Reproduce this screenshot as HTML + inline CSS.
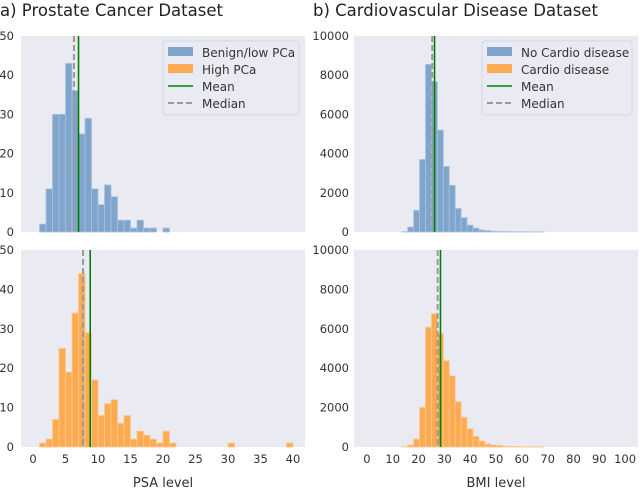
<!DOCTYPE html>
<html><head><meta charset="utf-8"><style>
body{margin:0;background:#fff}
svg{display:block;font-family:"DejaVu Sans","Liberation Sans",sans-serif}
</style></head><body>
<svg id="c" width="640" height="489" viewBox="0 0 640 489">
<text x="0" y="16" font-size="16.5" fill="#222">a) Prostate Cancer Dataset</text>
<text x="313" y="16" font-size="16.5" fill="#222">b) Cardiovascular Disease Dataset</text>
</svg>
<script>
// Prostate data (bins of width 1 starting at 1)
const psaBenign=[2,11,30,30,43,36,25,29,11,7,12,9,3,3,1,3,1,1,0,1];
const psaHigh=[1,2,7,25,19,34,44,29,17,8,11,12,6,8,2,4,3,2,1,4,1,0,0,0,0,0,0,0,0,1,0,0,0,0,0,0,0,0,1];
const psaStats={meanTop:7.0,medianTop:6.3,meanBot:8.8,medianBot:7.7};
const psaTicks=[0,5,10,15,20,25,30,35,40];
const countTicksPSA=[0,10,20,30,40,50];
// BMI data (bins of width 2.3 starting at 13.5)
const bmiNo=[20,250,1100,3700,8550,7660,5200,3350,2380,1200,730,350,200,100,70,40,25,20,15,10,10,8,5,5];
const bmiYes=[20,100,400,2010,6080,6760,5750,4380,3610,2300,1500,930,540,300,150,100,80,40,30,25,20,15,10,10];
const bmiStats={meanTop:26.2,medianTop:25.3,meanBot:28.5,medianBot:27.4};
const bmiTicks=[0,10,20,30,40,50,60,70,80,90,100];
const countTicksBMI=[0,2000,4000,6000,8000,10000];

const svg=document.getElementById('c');
const NS='http://www.w3.org/2000/svg';
function mk(tag,attrs,parent){const e=document.createElementNS(NS,tag);for(const k in attrs)e.setAttribute(k,attrs[k]);(parent||svg).appendChild(e);return e;}

function panel(o){
  const g=mk('g',{});
  
  
  const bg=mk('rect',{x:o.x0,y:o.y0,width:o.x1-o.x0,height:o.y1-o.y0,fill:'#eaeaf2'},g);
  
  
  const sx=v=>o.x0+(v-o.dmin)/(o.dmax-o.dmin)*(o.x1-o.x0);
  const sy=v=>o.y1-v/o.ymax*(o.y1-o.y0);
  o.vals.forEach((v,i)=>{
    if(v<=0)return;
    const a=sx(o.binStart+i*o.binW),b=sx(o.binStart+(i+1)*o.binW);
    const r=mk('rect',{x:a,y:sy(v),width:b-a,height:o.y1-sy(v),fill:o.color,stroke:o.edge,'stroke-width':0.8},g);
    
    
  });
  const md=mk('line',{x1:sx(o.median),x2:sx(o.median),y1:o.y0,y2:o.y1,stroke:'#999','stroke-width':2,'stroke-dasharray':'6,3'},g);
  
  
  const mn=mk('line',{x1:sx(o.mean),x2:sx(o.mean),y1:o.y0,y2:o.y1,stroke:'#008000','stroke-width':1.6},g);
  
  
  o.yt.forEach(t=>{
    const tx=mk('text',{x:o.ylx,y:sy(t)+4,'font-size':11.5,fill:'#333','text-anchor':'end'},g);
    tx.textContent=t;
    
    
  });
  if(o.xt){o.xt.forEach(t=>{
    const tx=mk('text',{x:sx(t),y:463,'font-size':11.5,fill:'#333','text-anchor':'middle'},g);
    tx.textContent=t;
    
    
  });
  const xl=mk('text',{x:(o.x0+o.x1)/2,y:487,'font-size':13,fill:'#333','text-anchor':'middle'},g);
  xl.textContent=o.xlabel;
  
  }
  if(o.legend){
    const L=o.legend;
    const lg=mk('g',{},g);
    
    
    mk('rect',{x:L.x,y:41,width:L.w,height:74,rx:3,fill:'#eaeaf2',stroke:'#d0d0d8','stroke-width':0.8},lg);
    const ys=[52,69,86,103];
    L.labels.forEach((lab,i)=>{
      const y=ys[i];
      if(i==0)mk('rect',{x:L.x+5,y:y-5,width:25,height:9,fill:'#7fa5cd'},lg);
      if(i==1)mk('rect',{x:L.x+5,y:y-5,width:25,height:9,fill:'#fcab52'},lg);
      if(i==2)mk('line',{x1:L.x+5,x2:L.x+30,y1:y,y2:y,stroke:'#008000','stroke-width':1.6},lg);
      if(i==3)mk('line',{x1:L.x+5,x2:L.x+30,y1:y,y2:y,stroke:'#999','stroke-width':2,'stroke-dasharray':'6,3'},lg);
      const t=mk('text',{x:L.x+39,y:y+5,'font-size':12,fill:'#333'},lg);
      t.textContent=lab;
      
      
    });
  }
}
const blue='#7fa5cd',blueE='#a8c2de',org='#fcab52',orgE='#fdc98c';
panel({name:'prostate-top',x0:21,x1:305,y0:36,y1:232,dmin:-1.85,dmax:41.85,ymax:50,vals:psaBenign,binStart:1,binW:1,color:blue,edge:blueE,mean:psaStats.meanTop,median:psaStats.medianTop,yt:countTicksPSA,ylx:14,
 legend:{x:163,w:136,labels:['Benign/low PCa','High PCa','Mean','Median']}});
panel({name:'prostate-bottom',x0:21,x1:305,y0:250,y1:447,dmin:-1.85,dmax:41.85,ymax:50,vals:psaHigh,binStart:1,binW:1,color:org,edge:orgE,mean:psaStats.meanBot,median:psaStats.medianBot,yt:countTicksPSA,ylx:14,xt:psaTicks,xlabel:'PSA level'});
panel({name:'cardio-top',x0:354,x1:638,y0:36,y1:232,dmin:-5.0,dmax:105.0,ymax:10000,vals:bmiNo,binStart:13.5,binW:2.3,color:blue,edge:blueE,mean:bmiStats.meanTop,median:bmiStats.medianTop,yt:countTicksBMI,ylx:349,
 legend:{x:482,w:150,labels:['No Cardio disease','Cardio disease','Mean','Median']}});
panel({name:'cardio-bottom',x0:354,x1:638,y0:250,y1:447,dmin:-5.0,dmax:105.0,ymax:10000,vals:bmiYes,binStart:13.5,binW:2.3,color:org,edge:orgE,mean:bmiStats.meanBot,median:bmiStats.medianBot,yt:countTicksBMI,ylx:349,xt:bmiTicks,xlabel:'BMI level'});
</script>
</body></html>
